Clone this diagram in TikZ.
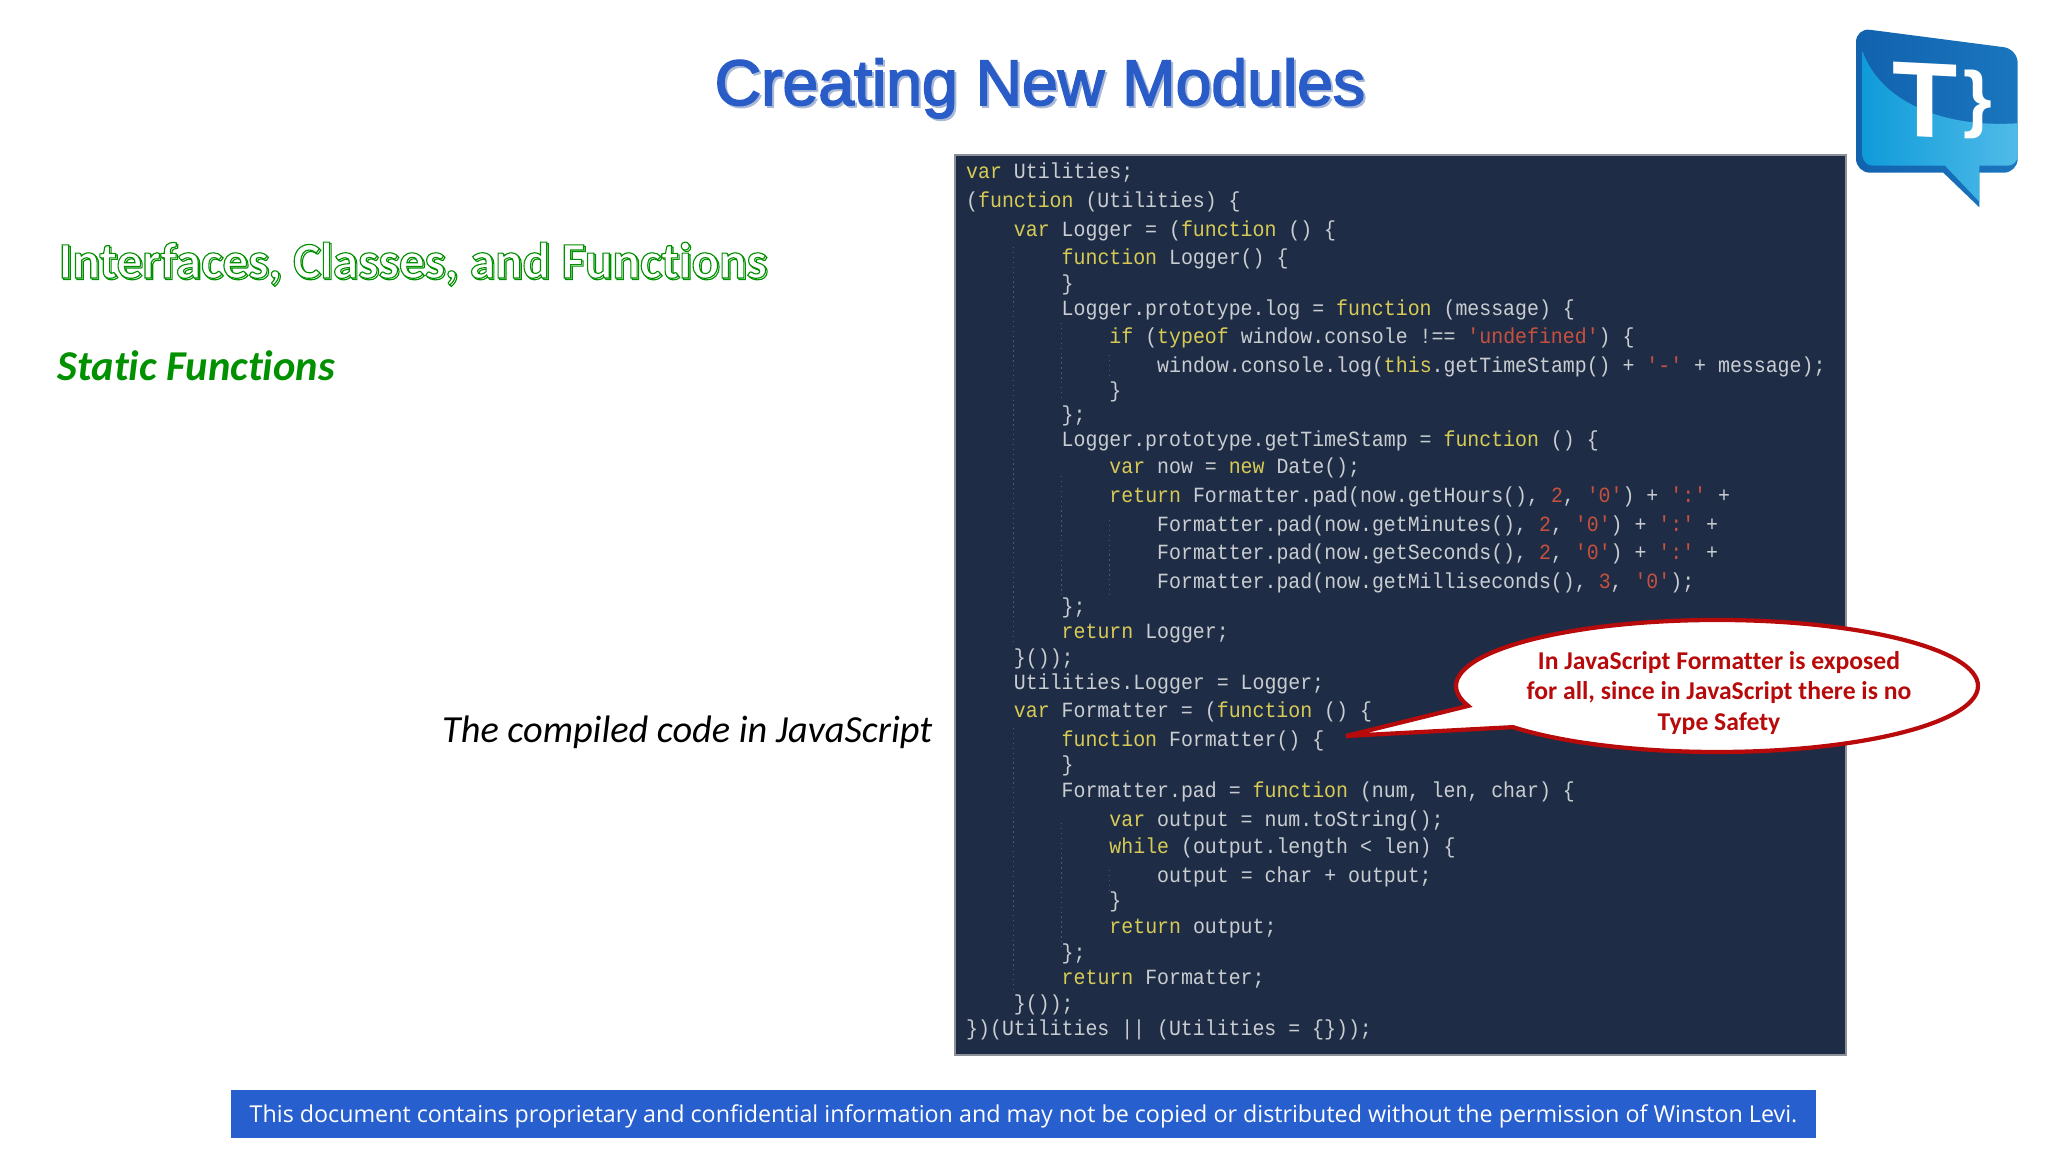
\documentclass[tikz,border=0pt]{standalone}
\usepackage{fontspec}
\usepackage{tikz}
\usetikzlibrary{shapes.callouts}

\setmainfont{Carlito}[Ligatures=NoCommon]
\newfontfamily\titlefont{Liberation Sans}[FakeBold=2.6]
\newfontfamily\logofont{Liberation Sans Bold}
\newfontfamily\codefont{Liberation Mono}[FakeStretch=0.917]
\newfontfamily\footfont{Open Sans}
\newfontfamily\headfont{Carlito Bold}[FakeBold=2.2, Ligatures=NoCommon]

\definecolor{titleblue}{HTML}{2A5CC8}
\definecolor{titleshade}{HTML}{A9B9D6}
\definecolor{headgreen}{HTML}{009000}
\definecolor{panelfill}{HTML}{1E2D45}
\definecolor{panelline}{HTML}{8C9098}
\definecolor{plaincode}{HTML}{C9CDD2}
\definecolor{keycode}{HTML}{D8CB55}
\definecolor{litcode}{HTML}{C8503F}
\definecolor{guidecode}{HTML}{4A5A72}
\definecolor{balloonred}{HTML}{B80A0A}
\definecolor{barblue}{HTML}{285FCF}
\definecolor{logodark}{HTML}{1262AE}
\definecolor{logomid}{HTML}{1A76BE}
\definecolor{logolight}{HTML}{0F9BD9}
\definecolor{logopale}{HTML}{50BBE8}

\newcommand{\kw}[1]{\textcolor{keycode}{#1}}
\newcommand{\lit}[1]{\textcolor{litcode}{#1}}
\newcommand{\hollow}{\color{headgreen}\special{pdf:code 1 1 1 rg}}

\tikzset{
    plain/.style={inner sep=0, anchor=base west},
    codeline/.style={plain, text=plaincode, font=\codefont\fontsize{6.17}{7}\selectfont\frenchspacing},
    guide/.style={guidecode, densely dotted, line width=0.4pt},
    balloon/.style={ellipse callout, draw=balloonred, line width=1.2pt, fill=white, inner sep=0,
        minimum width=5.22cm, minimum height=1.32cm, callout pointer arc=21},
}

\begin{document}
\begin{tikzpicture}[x=1cm, y=1cm]
    \useasboundingbox (0,0) rectangle (20.48,11.52);

    % Title with its shade
    \node[plain, text=titleshade, font=\titlefont\fontsize{18.3}{22}\selectfont] (titleshade) at (7.16,10.45) {Creating New Modules};
    \node[plain, text=titleblue, font=\titlefont\fontsize{18.3}{22}\selectfont] (title) at (7.14,10.47) {Creating New Modules};

    % Green headings
    \node[plain, font=\headfont\fontsize{14.55}{17}\selectfont] (headshade) at (0.595,8.725) {\hollow Interfaces, Classes, and Functions};
    \node[plain, font=\headfont\fontsize{14.55}{17}\selectfont] (head) at (0.58,8.74) {\hollow Interfaces, Classes, and Functions};
    \node[plain, text=headgreen, font=\bfseries\itshape\fontsize{12.1}{14}\selectfont] (static) at (0.57,7.715) {Static Functions};

    % Caption left of the code
    \node[inner sep=0, anchor=base east, font=\itshape\fontsize{10.9}{13}\selectfont] (caption) at (9.33,4.09) {The compiled code in JavaScript};

    % Code panel
    \draw[panelline, fill=panelfill, line width=0.8pt] (9.55,0.97) rectangle (18.46,9.97);

    % Indent guides
    \foreach \col/\from/\to in {4/2.47/6.45, 4/7.28/9.92, 8/3.23/4.00, 8/4.76/5.95, 8/8.23/9.47, 12/3.55/3.78, 12/5.20/5.95, 12/8.70/8.92}
        \draw[guide] ({9.66+\col*0.1194},{11.52-\from}) -- ({9.66+\col*0.1194},{11.52-\to});

    % Code lines
    \foreach \py/\ind/\txt in {
        179/0/{\kw{var} Utilities;},
        208/0/{(\kw{function} (Utilities) \{},
        237/4/{\kw{var} Logger = (\kw{function} () \{},
        265/8/{\kw{function} Logger() \{},
        291/8/{\}},
        316/8/{Logger.prototype.log = \kw{function} (message) \{},
        344/12/{\kw{if} (\kw{typeof} window.console !== \lit{'undefined'}) \{},
        373/16/{window.console.log(\kw{this}.getTimeStamp() + \lit{'-'} + message);},
        398/12/{\}},
        422/8/{\};},
        447/8/{Logger.prototype.getTimeStamp = \kw{function} () \{},
        474/12/{\kw{var} now = \kw{new} Date();},
        503/12/{\kw{return} Formatter.pad(now.getHours(), \lit{2}, \lit{'0'}) + \lit{':'} +},
        532/16/{Formatter.pad(now.getMinutes(), \lit{2}, \lit{'0'}) + \lit{':'} +},
        560/16/{Formatter.pad(now.getSeconds(), \lit{2}, \lit{'0'}) + \lit{':'} +},
        589/16/{Formatter.pad(now.getMilliseconds(), \lit{3}, \lit{'0'});},
        614/8/{\};},
        639/8/{\kw{return} Logger;},
        665/4/{\}());},
        690/4/{Utilities.Logger = Logger;},
        718/4/{\kw{var} Formatter = (\kw{function} () \{},
        747/8/{\kw{function} Formatter() \{},
        772/8/{\}},
        798/8/{Formatter.pad = \kw{function} (num, len, char) \{},
        827/12/{\kw{var} output = num.toString();},
        854/12/{\kw{while} (output.length < len) \{},
        883/16/{output = char + output;},
        908/12/{\}},
        934/12/{\kw{return} output;},
        960/8/{\};},
        985/8/{\kw{return} Formatter;},
        1011/4/{\}());},
        1036/0/{\})(Utilities || (Utilities = \{\}));}}
        \node[codeline] (line\py) at ({9.655+\ind*0.1194},{11.52-\py/100}) {\txt};

    % Callout
    \node[balloon, callout absolute pointer={(13.46,4.16)}] (balloon) at (17.17,4.66) {};
    \node[align=center, inner sep=0, text=balloonred, font=\bfseries\fontsize{7.3}{8.75}\selectfont] (balloontext) at (17.19,4.59) {In JavaScript Formatter is exposed\\for all, since in JavaScript there is no\\Type Safety};

    % Footer bar
    \node[fill=barblue, text=white, inner sep=0, minimum width=15.85cm, minimum height=0.48cm, font=\footfont\fontsize{6.62}{9}\selectfont] (footer) at (10.235,0.38) {\raisebox{-2.4pt}[0pt][0pt]{This document contains proprietary and confidential information and may not be copied or distributed without the permission of Winston Levi.}};

    % Logo
    \shade[left color=logodark, right color=logomid]
        [rounded corners=0.14cm] (18.56,9.793) -- (18.56,11.24) -- (20.177,11.03) -- (20.177,9.793)
        [sharp corners] -- (19.793,9.793) -- (19.793,9.447) -- (19.433,9.793) [rounded corners=0.14cm] -- cycle;
    \shade[left color=logolight, right color=logopale]
        (18.627,11.003) .. controls (18.8,10.52) and (19.4,10.237) .. (20.177,10.287)
        -- (20.177,10.0) [rounded corners=0.1cm] -- (20.177,9.863)
        [sharp corners] -- (19.793,9.863) -- (19.793,9.503) -- (19.45,9.863)
        [rounded corners=0.1cm] -- (18.627,9.863) [sharp corners] -- cycle;
    \node[inner sep=0, text=white, yslant=-0.05, font=\logofont\fontsize{30.4}{32}\selectfont] (logot) at (19.247,10.517) {T};
    \node[inner sep=0, text=white, font=\logofont\fontsize{21}{24}\selectfont] (logobrace) at (19.78,10.473) {\}};
\end{tikzpicture}
\end{document}
